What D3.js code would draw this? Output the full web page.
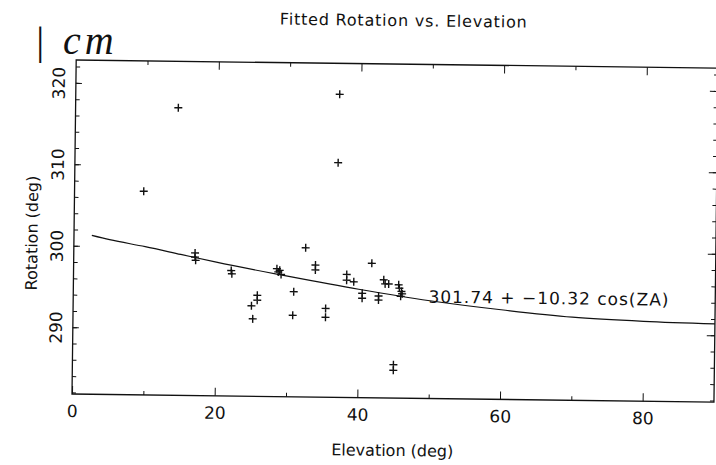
<!DOCTYPE html>
<html>
<head>
<meta charset="utf-8">
<script src="https://cdn.jsdelivr.net/npm/d3@7"></script>
<style>
  body { margin: 0; background: #fff; }
  svg { display: block; }
  text { font-family: "DejaVu Sans", sans-serif; fill: #111; }
  .axis path, .axis line { stroke: #111; }
</style>
</head>
<body>
<svg></svg>
<script>
// measured points: elevation (deg) and fitted rotation (deg)
const elevation = [
  14.4, 9.7, 37.0, 36.9,
  17.0, 17.0, 17.1,
  22.1, 22.2,
  28.5, 28.9, 29.1, 28.7,
  32.5, 33.9, 33.9, 30.9,
  25.8, 25.8, 25.0, 25.2, 30.8,
  35.4, 35.4, 41.8,
  38.3, 38.3, 39.3,
  40.5, 40.5, 42.8, 42.8,
  43.5, 43.7, 44.2,
  45.6, 45.7, 46.0, 46.1, 45.9,
  45.0, 45.0,
];
const rotation = [
  317.1, 306.8, 319.0, 310.6,
  299.3, 298.8, 298.4,
  297.2, 296.8,
  297.5, 297.3, 296.8, 297.1,
  300.1, 298.0, 297.4, 294.7,
  294.2, 293.6, 292.9, 291.3, 291.8,
  292.7, 291.6, 298.3,
  296.9, 296.2, 296.0,
  294.6, 294.0, 294.3, 293.8,
  296.3, 295.8, 295.8,
  295.7, 295.3, 294.9, 294.6, 294.3,
  285.9, 285.2,
];

// fitted curve
const fitElevation = [2.5, 5, 10, 15, 20, 30, 40, 50, 60, 70, 80, 90];
const fitRotation = [301.3, 300.8, 300.0, 299.1, 298.2, 296.6, 295.1, 293.8, 292.8, 292.0, 291.6, 291.4];
const fitLabel = '301.74 + \u221210.32 cos(ZA)';

const xMajor = [0, 20, 40, 60, 80];
const xMinor = [10, 30, 50, 70];
const yMajor = [290, 300, 310, 320];
const yMinor = d3.range(282, 324, 2);

const width = 716;
const height = 465;
const left = 72;
const bottom = 394;
const plotW = 642;
const plotH = 334;

const svg = d3.select('svg')
    .attr('width', width)
    .attr('height', height);

svg.append('rect')
    .attr('width', width)
    .attr('height', height)
    .attr('fill', '#fff');

// handwritten note on the scan
svg.append('text')
    .attr('x', 34)
    .attr('y', 54)
    .style('font-family', '"Liberation Serif", serif')
    .style('font-style', 'italic')
    .style('font-size', '40px')
    .style('letter-spacing', '4px')
    .text('| cm');

// the scanned page is slightly rotated
const g = svg.append('g')
    .attr('transform', `rotate(0.72, ${left}, ${bottom}) translate(${left}, ${bottom - plotH})`);

const x = d3.scaleLinear().domain([0, 90]).range([0, plotW]);
const y = d3.scaleLinear().domain([281.8, 322.8]).range([plotH, 0]);

g.append('text')
    .attr('x', plotW / 2 + 6)
    .attr('y', -38)
    .attr('text-anchor', 'middle')
    .style('font-size', '16px')
    .style('letter-spacing', '0.8px')
    .text('Fitted Rotation vs. Elevation');

// frame
g.append('rect')
    .attr('width', plotW)
    .attr('height', plotH)
    .attr('fill', 'none')
    .attr('stroke', '#111')
    .attr('stroke-width', 1.3);

const bottomAxis = g.append('g')
    .attr('class', 'axis')
    .attr('transform', `translate(0,${plotH})`)
    .call(d3.axisBottom(x).tickValues(xMajor).tickSizeInner(-8).tickSizeOuter(0).tickPadding(11));
bottomAxis.selectAll('text').style('font-size', '17px').style('fill', '#111');
bottomAxis.select('.domain').remove();

g.append('g')
    .attr('class', 'axis')
    .attr('transform', `translate(0,${plotH})`)
    .call(d3.axisBottom(x).tickValues(xMinor).tickSizeInner(-4).tickSizeOuter(0).tickFormat(''))
    .select('.domain').remove();

g.append('g')
    .attr('class', 'axis')
    .call(d3.axisTop(x).tickValues(xMajor.slice(1)).tickSizeInner(-8).tickSizeOuter(0).tickFormat(''))
    .select('.domain').remove();

g.append('g')
    .attr('class', 'axis')
    .call(d3.axisTop(x).tickValues(xMinor).tickSizeInner(-4).tickSizeOuter(0).tickFormat(''))
    .select('.domain').remove();

const leftAxis = g.append('g')
    .attr('class', 'axis')
    .call(d3.axisLeft(y).tickValues(yMajor).tickSizeInner(-6).tickSizeOuter(0));
leftAxis.select('.domain').remove();
leftAxis.selectAll('text')
    .attr('x', null)
    .attr('dy', null)
    .attr('text-anchor', 'middle')
    .attr('dominant-baseline', 'central')
    .attr('transform', 'translate(-17,0) rotate(-90)')
    .style('font-size', '17px')
    .style('fill', '#111');

g.append('g')
    .attr('class', 'axis')
    .call(d3.axisLeft(y).tickValues(yMinor).tickSizeInner(-4).tickSizeOuter(0).tickFormat(''))
    .select('.domain').remove();

g.append('g')
    .attr('class', 'axis')
    .attr('transform', `translate(${plotW},0)`)
    .call(d3.axisRight(y).tickValues(yMajor).tickSizeInner(-8).tickSizeOuter(0).tickFormat(''))
    .select('.domain').remove();

g.append('g')
    .attr('class', 'axis')
    .attr('transform', `translate(${plotW},0)`)
    .call(d3.axisRight(y).tickValues(yMinor).tickSizeInner(-4).tickSizeOuter(0).tickFormat(''))
    .select('.domain').remove();

g.append('text')
    .attr('transform', `translate(-42,${y(301.5)}) rotate(-90)`)
    .attr('text-anchor', 'middle')
    .attr('dominant-baseline', 'central')
    .style('font-size', '16px')
    .text('Rotation (deg)');

g.append('text')
    .attr('x', x(45))
    .attr('y', plotH + 58)
    .attr('text-anchor', 'middle')
    .style('font-size', '16px')
    .text('Elevation (deg)');

// fitted curve
const fit = fitElevation.map((e, i) => ({'e': e, 'r': fitRotation[i]}));
g.append('path')
    .datum(fit)
    .attr('fill', 'none')
    .attr('stroke', '#111')
    .attr('stroke-width', 1.2)
    .attr('d', d3.line()
        .curve(d3.curveMonotoneX)
        .x(function(d) {
          return x(d.e);
        })
        .y(function(d) {
          return y(d.r);
        }));

g.append('text')
    .attr('x', x(49.8))
    .attr('y', y(294.3) + 6)
    .style('font-size', '17px')
    .style('letter-spacing', '1px')
    .text(fitLabel);

// plus markers
const points = elevation.map((e, i) => ({'e': e, 'r': rotation[i]}));
g.selectAll('.pt')
    .data(points)
    .enter().append('path')
    .attr('class', 'pt')
    .attr('transform', function(d) {
      return `translate(${x(d.e)},${y(d.r)})`;
    })
    .attr('d', 'M-4,0H4M0,-4V4')
    .attr('stroke', '#111')
    .attr('stroke-width', 1.4);
</script>
</body>
</html>
